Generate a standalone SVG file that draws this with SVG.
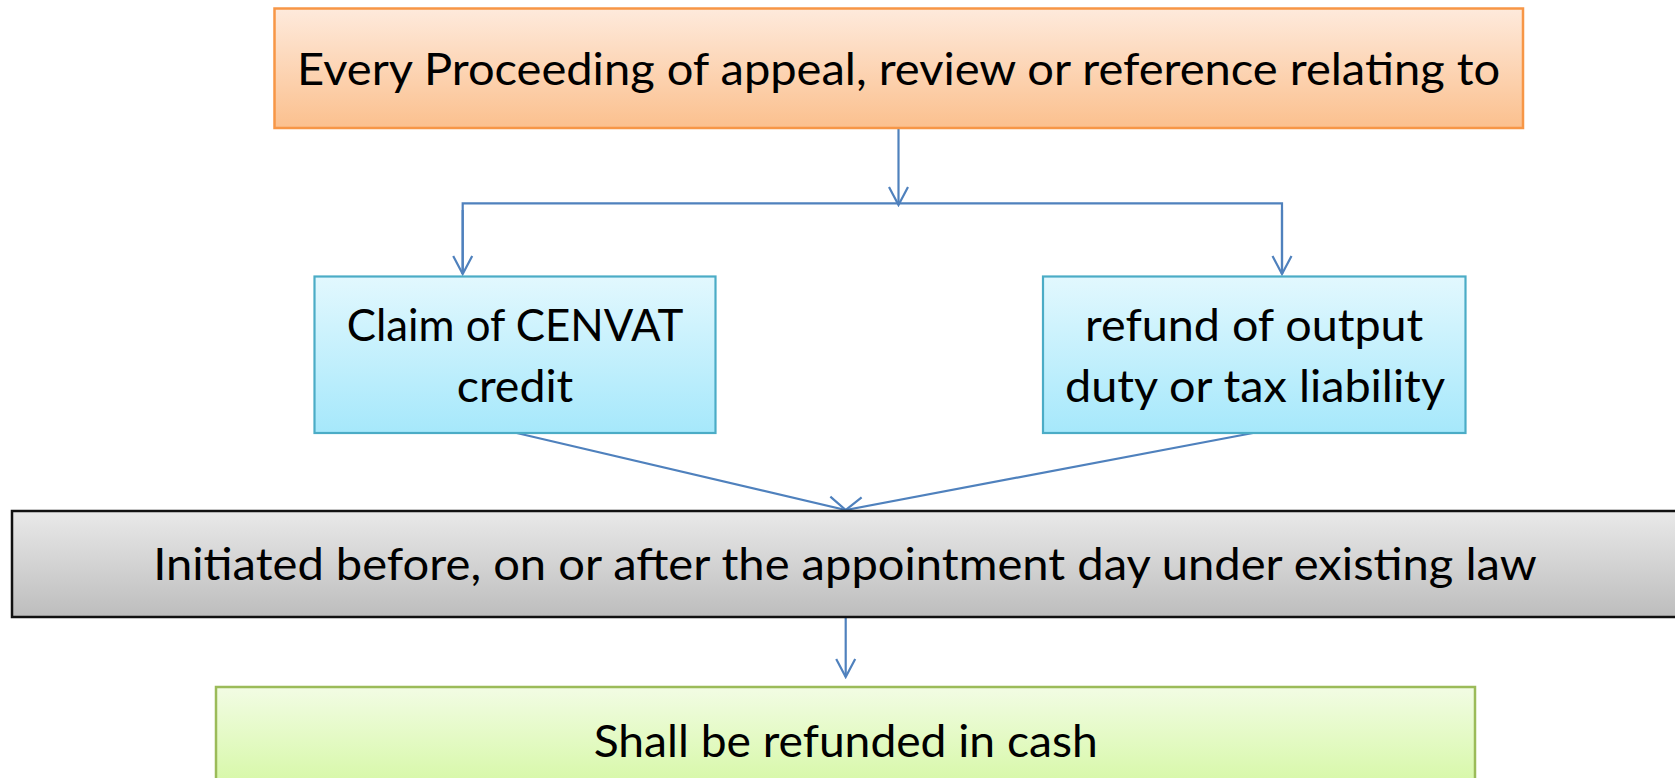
<svg xmlns="http://www.w3.org/2000/svg" width="1675" height="778" viewBox="0 0 1675 778">
  <defs>
    <linearGradient id="gOrange" x1="0" y1="0" x2="0" y2="1">
      <stop offset="0" stop-color="#FEEADC"/>
      <stop offset="1" stop-color="#FBC08E"/>
    </linearGradient>
    <linearGradient id="gBlue" x1="0" y1="0" x2="0" y2="1">
      <stop offset="0" stop-color="#E2F8FE"/>
      <stop offset="1" stop-color="#A6E8FB"/>
    </linearGradient>
    <linearGradient id="gGray" x1="0" y1="0" x2="0" y2="1">
      <stop offset="0" stop-color="#E9E9E9"/>
      <stop offset="1" stop-color="#BDBDBD"/>
    </linearGradient>
    <linearGradient id="gGreen" x1="0" y1="0" x2="0" y2="1">
      <stop offset="0" stop-color="#F2FCE4"/>
      <stop offset="1" stop-color="#D6F8A6"/>
    </linearGradient>
    <marker id="open" viewBox="0 0 22 22" refX="20" refY="11" markerWidth="22" markerHeight="22" markerUnits="userSpaceOnUse" orient="auto">
      <path d="M2,1.5 L20,11 L2,20.5" fill="none" stroke="#4F81BD" stroke-width="2.2"/>
    </marker>
  </defs>
  <style>
    .lbl { font-family: Lato, "Liberation Sans", sans-serif; font-size: 45px; fill: #000; text-anchor: middle; }
    .wire { fill: none; stroke: #4F81BD; stroke-width: 2.2; }
  </style>
  <rect width="1675" height="778" fill="#FFFFFF"/>

  <g id="connectors">
    <line class="wire" x1="898.5" y1="129" x2="898.5" y2="205" marker-end="url(#open)"/>
    <polyline class="wire" points="462.7,274 462.7,203.3 1282,203.3 1282,274"/>
    <line class="wire" x1="462.7" y1="210" x2="462.7" y2="274" marker-end="url(#open)"/>
    <line class="wire" x1="1282" y1="210" x2="1282" y2="274" marker-end="url(#open)"/>
    <line class="wire" x1="516.7" y1="433" x2="845.7" y2="510" marker-end="url(#open)"/>
    <line class="wire" x1="1253" y1="433" x2="845.7" y2="510" marker-end="url(#open)"/>
    <line class="wire" x1="845.7" y1="618" x2="845.7" y2="677" marker-end="url(#open)"/>
  </g>

  <g id="node-proceeding">
    <rect x="274.5" y="8.5" width="1248.5" height="119.5" fill="url(#gOrange)" stroke="#F79646" stroke-width="2.5"/>
    <text class="lbl" x="898.6" y="85" textLength="1203" lengthAdjust="spacingAndGlyphs">Every Proceeding of appeal, review or reference relating to</text>
  </g>

  <g id="node-cenvat">
    <rect x="314.5" y="276.5" width="401" height="156.5" fill="url(#gBlue)" stroke="#4BACC6" stroke-width="2.2"/>
    <text class="lbl" x="515" y="341" textLength="336.6" lengthAdjust="spacingAndGlyphs">Claim of CENVAT</text>
    <text class="lbl" x="515" y="401.7" textLength="116.6" lengthAdjust="spacingAndGlyphs">credit</text>
  </g>

  <g id="node-refund">
    <rect x="1043" y="276.5" width="422.5" height="156.5" fill="url(#gBlue)" stroke="#4BACC6" stroke-width="2.2"/>
    <text class="lbl" x="1254.2" y="341" textLength="338.3" lengthAdjust="spacingAndGlyphs">refund of output</text>
    <text class="lbl" x="1255" y="401.7" textLength="380" lengthAdjust="spacingAndGlyphs">duty or tax liability</text>
  </g>

  <g id="node-initiated">
    <rect x="12" y="511" width="1668" height="106" fill="url(#gGray)" stroke="#111111" stroke-width="2.5"/>
    <text class="lbl" x="845" y="580" textLength="1383.7" lengthAdjust="spacingAndGlyphs">Initiated before, on or after the appointment day under existing law</text>
  </g>

  <g id="node-cash">
    <rect x="216" y="687" width="1259" height="100" fill="url(#gGreen)" stroke="#9BBB59" stroke-width="2.5"/>
    <text class="lbl" x="845.7" y="757" textLength="504" lengthAdjust="spacingAndGlyphs">Shall be refunded in cash</text>
  </g>
</svg>
